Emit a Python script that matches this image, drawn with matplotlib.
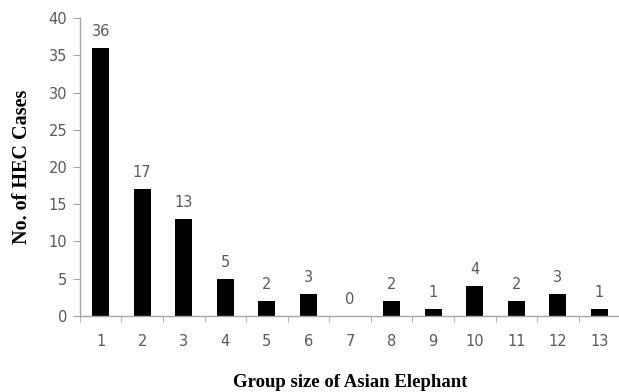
import matplotlib
matplotlib.use("Agg")
import matplotlib.pyplot as plt
from matplotlib.ticker import FixedLocator

groups = ["1", "2", "3", "4", "5", "6", "7", "8", "9", "10", "11", "12", "13"]
cases = [36, 17, 13, 5, 2, 3, 0, 2, 1, 4, 2, 3, 1]
yticks = [0, 5, 10, 15, 20, 25, 30, 35, 40]

axis_grey = "#a6a6a6"
text_grey = "#595959"

fig = plt.figure(figsize=(6.19, 3.92), dpi=100)
ax = fig.add_axes([0.129, 0.194, 0.873, 0.760])

x = list(range(1, len(groups) + 1))
ax.bar(x, cases, width=0.41, color="black")

for xi, v in zip(x, cases):
    ax.text(xi, v + 1.2, str(v), ha="center", va="bottom",
            fontsize=10.5, color=text_grey, family="DejaVu Sans")

ax.set_xlim(0.5, len(groups) + 0.5)
ax.set_ylim(0, 40)
ax.set_yticks(yticks)
ax.set_xticks(x)
ax.set_xticklabels(groups)
ax.xaxis.set_minor_locator(FixedLocator([i + 0.5 for i in range(0, len(groups) + 1)]))
ax.tick_params(axis="x", which="major", length=0, pad=13, labelsize=10.5, labelcolor=text_grey)
ax.tick_params(axis="x", which="minor", length=4, color=axis_grey, direction="out")
ax.tick_params(axis="y", length=5, color=axis_grey, labelsize=10.5, labelcolor=text_grey, pad=4)

for side in ["top", "right"]:
    ax.spines[side].set_visible(False)
for side in ["left", "bottom"]:
    ax.spines[side].set_color(axis_grey)
    ax.spines[side].set_linewidth(1.0)

ax.set_xlabel("Group size of Asian Elephant", family="Liberation Serif",
              fontweight="bold", fontsize=13.5, labelpad=18)
ax.set_ylabel("No. of HEC Cases", family="Liberation Serif",
              fontweight="bold", fontsize=14.5, labelpad=12)

fig.savefig("out.png", dpi=100)
